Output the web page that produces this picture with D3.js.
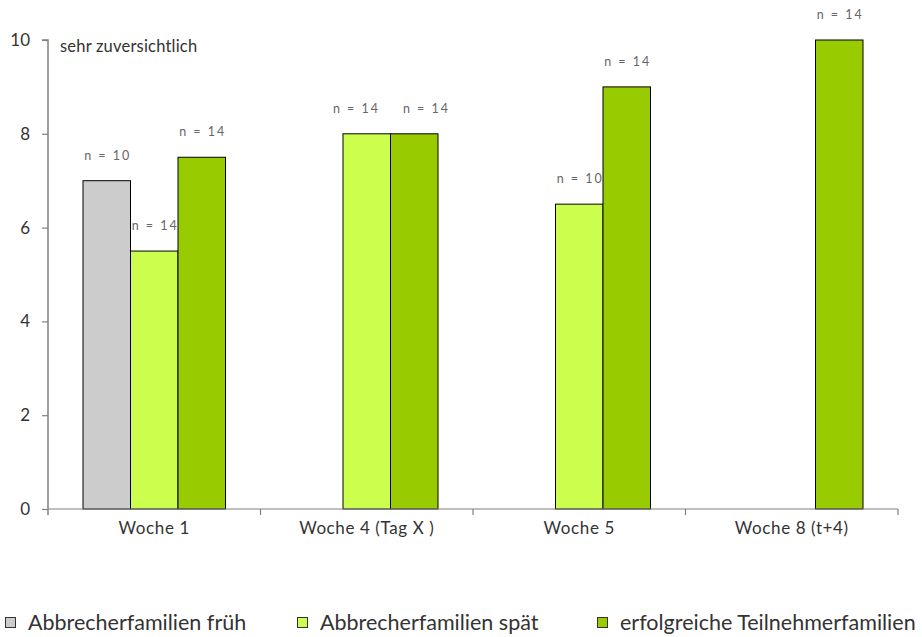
<!DOCTYPE html>
<html><head><meta charset="utf-8">
<script src="https://cdn.jsdelivr.net/npm/d3@7"></script>
<style>
body{margin:0;background:#fff;}
svg{font-family:Lato,"Open Sans",sans-serif;}
</style></head>
<body><svg id="c" width="922" height="637"></svg>
<script>
const categories = ["Woche 1", "Woche 4 (Tag X )", "Woche 5", "Woche 8 (t+4)"];
const seriesNames = ["Abbrecherfamilien früh", "Abbrecherfamilien spät", "erfolgreiche Teilnehmerfamilien"];
const seriesColors = ["#cccccc", "#ccff4d", "#99cc00"];
const früh = [7, null, null, null];
const spät = [5.5, 8, 6.5, null];
const erfolgreich = [7.5, 8, 9, 10];
const nFrüh = ["n = 10", null, null, null];
const nSpät = ["n = 14", "n = 14", "n = 10", null];
const nErfolgreich = ["n = 14", "n = 14", "n = 14", "n = 14"];
const yTicks = [0, 2, 4, 6, 8, 10];
const yAxisNote = "sehr zuversichtlich";

(function(){
const series = [früh, spät, erfolgreich];
const labels = [nFrüh, nSpät, nErfolgreich];

const svg = d3.select("#c");
const mL = 48, mR = 898, mT = 40, mB = 509;
const x = d3.scaleBand().domain(categories).range([mL, mR]).paddingInner(0).paddingOuter(0);
const y = d3.scaleLinear().domain([0, 10]).range([mB, mT]);
const barW = 47.5;
const xs = d3.scaleBand().domain(d3.range(3)).range([0, barW * 3]);

series.forEach((vals, si) => {
  const g = svg.append("g");
  categories.forEach((c, ci) => {
    const v = vals[ci];
    if (v == null) return;
    const x0 = x(c) + x.bandwidth() / 2 - barW * 1.5 + xs(si);
    g.append("rect")
      .attr("x", x0).attr("y", y(v))
      .attr("width", barW).attr("height", y(0) - y(v))
      .attr("fill", seriesColors[si]).attr("stroke", "#000").attr("stroke-width", 1);
  });
});
// labels, with side-by-side collision spreading
const labs = [];
series.forEach((vals, si) => {
  categories.forEach((c, ci) => {
    const v = vals[ci];
    const lab = labels[si][ci];
    if (v == null || !lab) return;
    const x0 = x(c) + x.bandwidth() / 2 - barW * 1.5 + xs(si);
    labs.push({cx: x0 + barW / 2, cy: y(v) - 21, text: lab, ci});
  });
});
const minDist = 70;
labs.forEach(a => labs.forEach(b => {
  if (a !== b && a.ci === b.ci && Math.abs(a.cy - b.cy) < 10 && a.cx < b.cx && b.cx - a.cx < minDist) {
    const d = (minDist - (b.cx - a.cx)) / 2;
    a.cx -= d; b.cx += d;
  }
}));
labs.forEach(l => {
  svg.append("text").attr("x", l.cx + 1).attr("y", l.cy)
    .attr("text-anchor", "middle").attr("font-size", 12.5).attr("fill", "#666")
    .attr("letter-spacing", "2px").text(l.text);
});

const yAxis = d3.axisLeft(y).tickValues(yTicks).tickSize(6).tickPadding(12);
const ga = svg.append("g").attr("transform", `translate(${mL},0)`).call(yAxis);
ga.select(".domain").attr("stroke", "#808080").attr("stroke-width", 1.5).attr("d", `M-6,${mT}H0V${mB+6}`);
ga.selectAll(".tick line").attr("stroke", "#808080").attr("stroke-width", 1.2);
ga.selectAll(".tick text").attr("font-size", 17).attr("fill", "#333").attr("font-family", "Lato,sans-serif");

const xAxis = d3.axisBottom(x).tickSize(0).tickPadding(13);
const gx = svg.append("g").attr("transform", `translate(0,${mB})`).call(xAxis);
gx.select(".domain").attr("stroke", "#808080").attr("stroke-width", 1.2).attr("d", `M${mL},0H${mR}`);
gx.selectAll(".tick text").attr("font-size", 17).attr("fill", "#333").attr("letter-spacing", "0.6px").attr("font-family", "Lato,sans-serif");
const bounds = categories.map(c => x(c)).concat([mR]);
gx.selectAll(".sep").data(bounds.slice(1)).enter().append("line")
  .attr("x1", d => d).attr("x2", d => d).attr("y1", 0).attr("y2", 6)
  .attr("stroke", "#808080").attr("stroke-width", 1.2);

svg.append("text").attr("x", 60).attr("y", 52).attr("font-size", 16.5).attr("fill", "#333")
  .attr("letter-spacing", "0.2px").text(yAxisNote);

const legX = [5, 297, 597];
seriesNames.forEach((n, i) => {
  svg.append("rect").attr("x", legX[i] + 0.5).attr("y", 617.5).attr("width", 10).attr("height", 10)
    .attr("fill", seriesColors[i]).attr("stroke", "#333").attr("stroke-width", 1);
  svg.append("text").attr("x", legX[i] + 23).attr("y", 630).attr("font-size", 21.5).attr("fill", "#333").text(n);
});
})();
</script></body></html>
